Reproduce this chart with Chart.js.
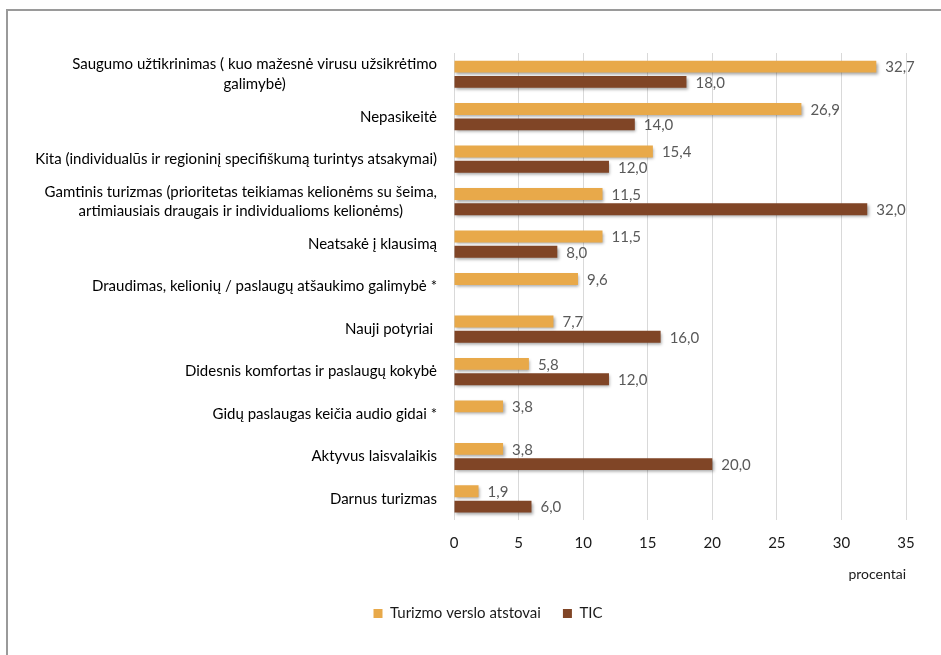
<!DOCTYPE html>
<html>
<head>
<meta charset="utf-8">
<script src="https://cdn.jsdelivr.net/npm/chart.js@4.4.1/dist/chart.umd.min.js"></script>
<style>
  html, body { margin: 0; padding: 0; background: #fff; }
  #wrap { width: 941px; height: 655px; position: relative; }
</style>
</head>
<body>
<div id="wrap"><canvas id="c" width="941" height="655"></canvas></div>
<script>
const categories = [
  ["Saugumo užtikrinimas ( kuo mažesnė virusu užsikrėtimo", "galimybė)"],
  ["Nepasikeitė"],
  ["Kita (individualūs ir regioninį specifiškumą turintys atsakymai)"],
  ["Gamtinis turizmas (prioritetas teikiamas kelionėms su šeima,", "artimiausiais draugais ir individualioms kelionėms)"],
  ["Neatsakė į klausimą"],
  ["Draudimas, kelionių / paslaugų atšaukimo galimybė *"],
  ["Nauji potyriai "],
  ["Didesnis komfortas ir paslaugų kokybė"],
  ["Gidų paslaugas keičia audio gidai *"],
  ["Aktyvus laisvalaikis"],
  ["Darnus turizmas"]
];
const seriesNames = ["Turizmo verslo atstovai", "TIC"];
const turizmoValues = [32.7, 26.9, 15.4, 11.5, 11.5, 9.6, 7.7, 5.8, 3.8, 3.8, 1.9];
const ticValues = [18.0, 14.0, 12.0, 32.0, 8.0, null, 16.0, 12.0, null, 20.0, 6.0];
const xTicks = [0, 5, 10, 15, 20, 25, 30, 35];
const axisTitle = "procentai";

const FONT = "Lato";
const ORANGE = "#E8A94A";
const BROWN = "#804526";

const shadowPlugin = {
  id: 'shadow',
  beforeDatasetsDraw(chart) {
    const ctx = chart.ctx;
    ctx.save();
    ctx.shadowColor = 'rgba(0,0,0,0.35)';
    ctx.shadowBlur = 3;
    ctx.shadowOffsetX = 1.5;
    ctx.shadowOffsetY = 2;
  },
  afterDatasetsDraw(chart) {
    chart.ctx.restore();
  }
};

const valueLabels = {
  id: 'valueLabels',
  afterDatasetsDraw(chart) {
    const ctx = chart.ctx;
    ctx.save();
    ctx.font = "15px " + FONT;
    ctx.fillStyle = "#595959";
    ctx.textAlign = "left";
    ctx.textBaseline = "middle";
    chart.data.datasets.forEach((ds, di) => {
      const meta = chart.getDatasetMeta(di);
      meta.data.forEach((bar, i) => {
        const v = ds.data[i];
        if (v === null || v === undefined) return;
        ctx.fillText(v.toFixed(1).replace('.', ','), bar.x + 9, bar.y + 1);
      });
    });
    ctx.restore();
  }
};

const catLabels = {
  id: 'catLabels',
  afterDraw(chart) {
    const ctx = chart.ctx;
    const yScale = chart.scales.y;
    const rightEdge = chart.chartArea.left - 17;
    ctx.save();
    ctx.font = "15px " + FONT;
    ctx.fillStyle = "#000000";
    ctx.textBaseline = "middle";
    ctx.textAlign = "center";
    const lh = 19.5;
    categories.forEach((lines, i) => {
      const cy = yScale.getPixelForTick(i);
      const maxW = Math.max(...lines.map(l => ctx.measureText(l).width));
      const cx = rightEdge - maxW / 2;
      lines.forEach((l, k) => {
        const y = cy + (k - (lines.length - 1) / 2) * lh;
        ctx.fillText(l, cx, y);
      });
    });
    // frame
    ctx.strokeStyle = "#9a9a9a";
    ctx.lineWidth = 2;
    ctx.beginPath();
    ctx.moveTo(7, 655);
    ctx.lineTo(7, 10);
    ctx.lineTo(941, 10);
    ctx.stroke();
    ctx.restore();
  }
};

new Chart(document.getElementById('c'), {
  type: 'bar',
  data: {
    labels: categories.map(c => c.join(' ')),
    datasets: [
      { label: seriesNames[0], data: turizmoValues, backgroundColor: ORANGE, borderWidth: 0,
        categoryPercentage: 0.72, barPercentage: 0.78 },
      { label: seriesNames[1], data: ticValues, backgroundColor: BROWN, borderWidth: 0,
        categoryPercentage: 0.72, barPercentage: 0.78 }
    ]
  },
  options: {
    indexAxis: 'y',
    responsive: false,
    animation: false,
    devicePixelRatio: 1,
    layout: { padding: { left: 70, right: 35, top: 53, bottom: 24 } },
    scales: {
      x: {
        min: 0, max: 35,
        afterBuildTicks(scale) { scale.ticks = xTicks.map(v => ({ value: v })); },
        grid: { color: "#d9d9d9", drawTicks: false, lineWidth: 1 },
        border: { display: false },
        ticks: { color: "#1a1a1a", font: { family: FONT, size: 15 }, padding: 14 },
        title: { display: true, text: axisTitle, align: 'end', color: "#1a1a1a",
                 font: { family: FONT, size: 14 }, padding: { top: 0, bottom: 1 } }
      },
      y: {
        grid: { display: false },
        border: { display: false },
        ticks: { display: false },
        afterFit(scale) { scale.width = 384; }
      }
    },
    plugins: {
      legend: {
        position: 'bottom',
        labels: { boxWidth: 9, boxHeight: 9, color: "#1a1a1a", padding: 22,
                  font: { family: FONT, size: 15 }, useBorderRadius: false }
      },
      tooltip: { enabled: false }
    }
  },
  plugins: [shadowPlugin, valueLabels, catLabels]
});
</script>
</body>
</html>
